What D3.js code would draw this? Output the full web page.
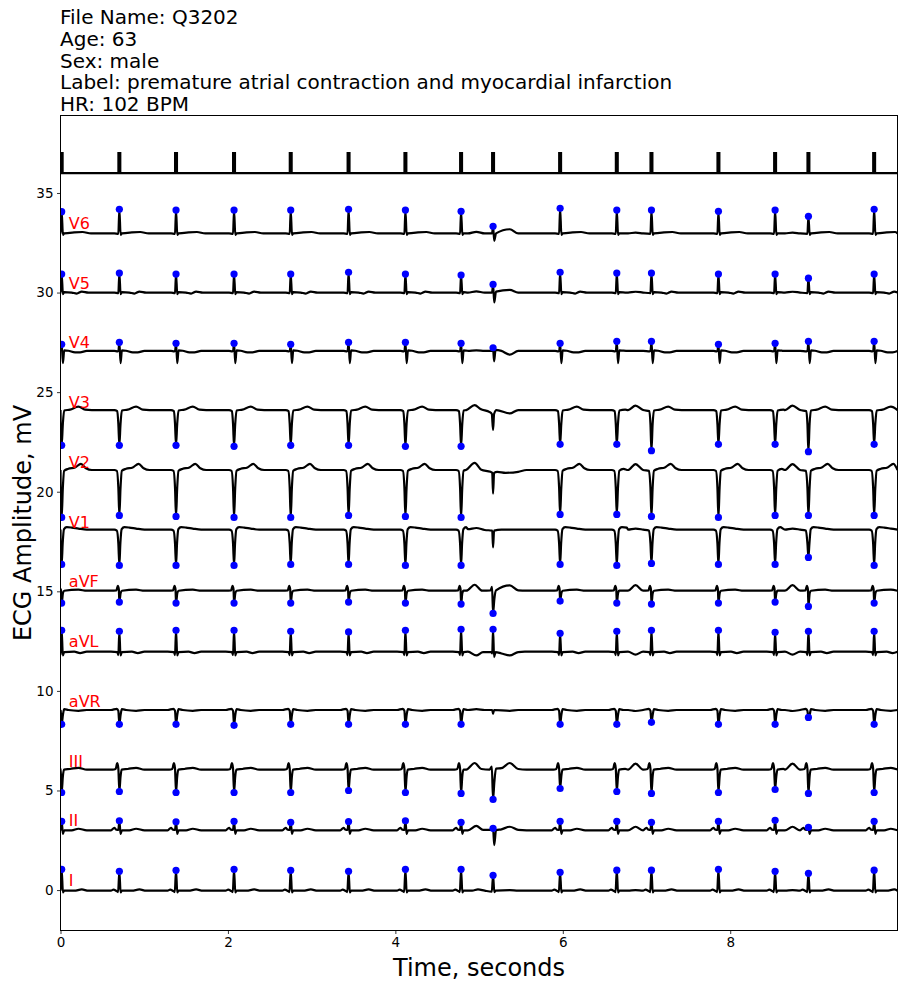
<!DOCTYPE html>
<html><head><meta charset="utf-8">
<script src="https://cdn.jsdelivr.net/npm/d3@7"></script>
<style>
body{margin:0;background:#fff}
svg{display:block}
text{font-family:"DejaVu Sans",sans-serif}
</style>
</head><body>
<svg id="chart" width="904" height="987"></svg>
<script>
// ---------------- DATA ----------------
const titleLines = [
  "File Name: Q3202",
  "Age: 63",
  "Sex: male",
  "Label: premature atrial contraction and myocardial infarction",
  "HR: 102 BPM"
];
const xLabel = "Time, seconds";
const yLabel = "ECG Amplitude, mV";
const xTicks = [0, 2, 4, 6, 8];
const yTicks = [0, 5, 10, 15, 20, 25, 30, 35];

// detected beats (seconds) and beat type: N normal, A aberrant premature, E early (P on T)
const beatTimes = [0.014, 0.703, 1.380, 2.073, 2.750, 3.441, 4.120, 4.785, 5.167, 5.968, 6.645, 7.059, 7.859, 8.536, 8.934, 9.719];
const beatTypes = ["N","N","N","N","N","N","N","N","A","N","N","E","N","N","E","N"];

const leadNames   = ["I","II","III","aVR","aVL","aVF","V1","V2","V3","V4","V5","V6"];
const leadOffsets = [0, 3, 6, 9, 12, 15, 18, 21, 24, 27, 30, 33];
const leadBaselines = [-0.03, 0.0, 0.05, 0.04, -0.03, 0.03, 0.1, 0.09, 0.1, 0.07, 0.0, -0.03];
const pBump = [0.03, 0.18, 0.3, -0.05, -0.15, 0.28, 0.05, 0.3, 0.22, 0.0, 0.04, 0.04];

// value of each lead at each detected beat (blue markers), null = no marker
const peakI   = [1.04,0.94,0.99,1.04,0.99,0.94,1.04,1.04,0.74,0.89,1.00,1.00,1.04,0.94,0.84,1.00];
const peakII  = [3.45,3.48,3.43,3.45,3.40,3.44,3.48,3.40,3.10,3.45,3.45,3.40,3.45,3.50,3.15,3.45];
const peakIII = [4.90,4.95,4.90,4.90,4.90,5.00,4.90,4.85,4.55,5.10,4.95,4.85,4.90,5.05,4.85,4.90];
const peakaVR = [8.32,8.32,8.32,8.27,8.32,8.32,8.32,8.32,null,8.32,8.32,8.42,8.32,8.32,8.67,8.32];
const peakaVL = [13.04,12.99,13.04,13.04,12.99,12.96,13.04,13.09,13.09,12.89,12.99,13.04,13.04,12.94,12.99,12.99];
const peakaVF = [14.41,14.46,14.41,14.41,14.41,14.46,14.41,14.36,13.89,14.51,14.41,14.36,14.41,14.46,14.24,14.41];
const peakV1  = [16.35,16.30,16.30,16.30,16.35,16.35,16.30,16.30,null,16.35,16.30,16.40,16.35,16.35,16.70,16.30];
const peakV2  = [18.71,18.81,18.76,18.71,18.71,18.81,18.76,18.71,null,18.86,18.86,18.76,18.71,18.81,18.81,18.81];
const peakV3  = [22.33,22.33,22.33,22.28,22.33,22.33,22.28,22.28,null,22.38,22.38,22.06,22.38,22.38,22.01,22.38];
const peakV4  = [27.40,27.50,27.45,27.45,27.40,27.50,27.50,27.45,27.23,27.45,27.55,27.55,27.40,27.45,27.55,27.55];
const peakV5  = [30.93,30.98,30.93,30.93,30.93,31.02,30.93,30.88,30.41,31.02,30.98,30.98,30.93,30.93,30.72,30.93];
const peakV6  = [34.06,34.18,34.14,34.14,34.14,34.18,34.14,34.08,33.33,34.23,34.14,34.14,34.08,34.14,33.83,34.18];
const peakValues = [peakI,peakII,peakIII,peakaVR,peakaVL,peakaVF,peakV1,peakV2,peakV3,peakV4,peakV5,peakV6];

// beat morphology per lead: [seconds from beat, mV above lead offset]; "R" = marker value
const shapeNormal = [
  [[-0.10,-0.03],[-0.07,0.02],[-0.04,-0.03],[-0.015,-0.1],[0,"R"],[0.015,-0.12],[0.03,-0.03],[0.15,-0.03],[0.24,0.03],[0.32,-0.03]],
  [[-0.10,0.0],[-0.06,0.12],[-0.035,0.03],[-0.012,0.02],[0,"R"],[0.015,-0.18],[0.03,0.0],[0.12,0.0],[0.2,0.08],[0.3,0.0]],
  [[-0.08,0.05],[-0.045,0.08],[-0.025,0.37],[-0.012,0.1],[0,"R"],[0.014,-0.3],[0.028,0.05],[0.1,0.08],[0.2,0.14],[0.3,0.05]],
  [[-0.10,0.04],[-0.03,0.1],[-0.012,0.0],[0,"R"],[0.015,-0.2],[0.03,0.08],[0.08,0.04],[0.2,0.0],[0.3,0.04]],
  [[-0.10,-0.03],[-0.025,-0.05],[-0.012,-0.2],[0,"R"],[0.014,-0.22],[0.03,-0.05],[0.15,-0.03],[0.22,-0.1],[0.3,-0.03]],
  [[-0.10,0.03],[-0.035,0.05],[-0.018,0.28],[-0.006,0.1],[0,"R"],[0.015,-0.1],[0.03,0.03],[0.2,0.08],[0.3,0.03]],
  [[-0.06,0.1],[-0.03,0.05],[-0.012,-0.6],[0,"R"],[0.012,-0.6],[0.028,0.12],[0.06,0.22],[0.12,0.2],[0.2,0.15],[0.3,0.1]],
  [[-0.06,0.09],[-0.03,0.05],[-0.012,-0.8],[0,"R"],[0.014,-0.8],[0.03,0.05],[0.08,0.15],[0.16,0.22],[0.23,0.4],[0.29,0.18],[0.36,0.09]],
  [[-0.06,0.1],[-0.025,0.05],[-0.012,-0.6],[0,"R"],[0.014,-0.6],[0.03,0.08],[0.1,0.12],[0.2,0.27],[0.28,0.12],[0.36,0.1]],
  [[-0.06,0.07],[-0.02,0.05],[-0.01,0.1],[0,"R"],[0.015,-0.55],[0.03,0.1],[0.08,0.08],[0.16,0.0],[0.22,0.0],[0.3,0.07]],
  [[-0.06,0.0],[-0.012,-0.03],[0,"R"],[0.015,-0.08],[0.03,0.02],[0.12,0.0],[0.18,-0.05],[0.24,0.05],[0.32,0.0]],
  [[-0.06,-0.03],[-0.012,-0.05],[0,"R"],[0.015,-0.1],[0.03,-0.03],[0.15,0.02],[0.25,0.04],[0.35,-0.03]]
];
const shapeAberrant = [
  [[-0.25,-0.03],[-0.18,0.03],[-0.1,-0.03],[-0.015,-0.08],[0,"R"],[0.015,-0.1],[0.03,-0.03],[0.2,0.0],[0.3,-0.03]],
  [[-0.30,0.0],[-0.2,0.22],[-0.12,0.02],[-0.02,0.02],[0,"R"],[0.014,-0.74],[0.035,0.0],[0.1,0.05],[0.2,0.18],[0.3,0.02],[0.4,0.0]],
  [[-0.32,0.05],[-0.22,0.38],[-0.14,0.08],[-0.04,0.05],[-0.015,0.2],[0,"R"],[0.015,-0.6],[0.035,0.1],[0.1,0.12],[0.2,0.38],[0.3,0.08],[0.4,0.05]],
  [[-0.30,0.04],[-0.2,0.08],[-0.1,0.04],[-0.01,0.04],[0,-0.15],[0.012,0.04],[0.2,0.0],[0.3,0.04]],
  [[-0.30,-0.03],[-0.2,-0.22],[-0.12,-0.05],[-0.02,-0.05],[-0.01,-0.12],[0,"R"],[0.012,-0.3],[0.03,-0.05],[0.1,-0.12],[0.2,-0.22],[0.3,-0.05],[0.38,-0.03]],
  [[-0.32,0.03],[-0.22,0.33],[-0.13,0.03],[-0.03,0.05],[-0.012,0.22],[0,"R"],[0.015,-0.4],[0.035,0.05],[0.2,0.3],[0.3,0.05],[0.4,0.03]],
  [[-0.30,0.12],[-0.2,0.18],[-0.1,0.08],[-0.01,0.05],[0,-0.8],[0.012,0.05],[0.1,0.1],[0.3,0.1]],
  [[-0.32,0.1],[-0.22,0.45],[-0.14,0.1],[-0.03,0.0],[-0.01,-0.05],[0,-1.1],[0.012,-0.05],[0.05,0.0],[0.15,-0.05],[0.3,0.0],[0.4,0.09]],
  [[-0.32,0.1],[-0.22,0.35],[-0.15,0.15],[-0.04,0.0],[-0.015,-0.1],[0,-0.9],[0.012,-0.1],[0.04,0.1],[0.2,-0.07],[0.3,0.1]],
  [[-0.30,0.07],[-0.2,0.1],[-0.1,0.07],[-0.012,0.07],[0,"R"],[0.012,-0.45],[0.03,0.12],[0.1,0.07],[0.2,-0.12],[0.3,0.07]],
  [[-0.30,0.0],[-0.2,0.06],[-0.1,0.0],[-0.012,0.0],[0,"R"],[0.014,-0.5],[0.035,0.05],[0.2,0.13],[0.3,0.0]],
  [[-0.30,-0.03],[-0.2,0.05],[-0.1,-0.03],[-0.012,-0.03],[0,"R"],[0.014,-0.4],[0.035,-0.03],[0.2,0.18],[0.3,-0.03]]
];
// beat marker trace on top
const pulseBase = 36, pulseTop = 37, pulseHalfWidth = 0.011;

// ---------------- LAYOUT ----------------
const plot = {left: 60.5, right: 897.5, top: 115.5, bottom: 930.5};
const xDomain = [0, 9.998];
const yDomain = [-2.03, 38.89];

const svg = d3.select("#chart");
const x = d3.scaleLinear().domain(xDomain).range([plot.left, plot.right]);
const y = d3.scaleLinear().domain(yDomain).range([plot.bottom, plot.top]);

svg.append("defs").append("clipPath").attr("id","clip")
  .append("rect").attr("x",plot.left).attr("y",plot.top)
  .attr("width",plot.right-plot.left).attr("height",plot.bottom-plot.top);

// title
svg.append("g").selectAll("text").data(titleLines).join("text")
  .attr("x", 60).attr("y", (d,i)=>24 + i*21.8)
  .attr("font-size", 20).attr("fill","#000").text(d=>d);

// build knots
function leadKnots(li){
  const off = leadOffsets[li], b = leadBaselines[li];
  const groups = beatTimes.map((bt,i)=>{
    let tpl = beatTypes[i]==="A" ? shapeAberrant[li] : shapeNormal[li];
    if (beatTypes[i]==="E") tpl = [[-0.28,b],[-0.19,b+pBump[li]],[-0.1,b]].concat(tpl.slice(1));
    const pk = peakValues[li][i];
    return tpl.map(([dt,v])=>[bt+dt, v==="R" ? pk : off + v]);
  });
  const pts = [[xDomain[0], off+b]];
  groups.forEach((g,i)=>{
    const next = groups[i+1];
    const limit = next ? next[0][0] : Infinity;
    g.forEach(p=>{ if (p[0] < limit && p[0] >= xDomain[0] && p[0] <= xDomain[1] && p[0] > pts[pts.length-1][0]) pts.push(p); });
  });
  if (pts[pts.length-1][0] < xDomain[1]) pts.push([xDomain[1], off+b]);
  return pts;
}

const gPlot = svg.append("g").attr("clip-path","url(#clip)");
const line = d3.line().x(d=>x(d[0])).y(d=>y(d[1])).curve(d3.curveMonotoneX);

leadNames.forEach((name,li)=>{
  gPlot.append("path").datum(leadKnots(li))
    .attr("d", line).attr("fill","none").attr("stroke","#000")
    .attr("stroke-width",2.2).attr("stroke-linejoin","round");
});

// pulse trace
const pulsePts = [[xDomain[0], pulseBase]];
beatTimes.forEach(bt=>{
  const a = Math.max(xDomain[0], bt-pulseHalfWidth), c = bt+pulseHalfWidth;
  pulsePts.push([a,pulseBase],[a,pulseTop],[c,pulseTop],[c,pulseBase]);
});
pulsePts.push([xDomain[1], pulseBase]);
gPlot.append("path").datum(pulsePts)
  .attr("d", d3.line().x(d=>x(d[0])).y(d=>y(d[1])))
  .attr("fill","none").attr("stroke","#000").attr("stroke-width",2.2);

// markers
leadNames.forEach((name,li)=>{
  gPlot.append("g").selectAll("circle")
    .data(beatTimes.map((t,i)=>[t, peakValues[li][i]]).filter(d=>d[1]!==null))
    .join("circle").attr("cx",d=>x(d[0])).attr("cy",d=>y(d[1])).attr("r",3.6).attr("fill","#0000ff");
});

// lead labels
svg.append("g").selectAll("text").data(leadNames).join("text")
  .attr("x", x(0.1)).attr("y",(d,i)=>y(leadOffsets[i]+0.2))
  .attr("font-size",16).attr("fill","#ff0000").text(d=>d);

// axes
const xAxis = d3.axisBottom(x).tickValues(xTicks).tickSize(3.5).tickPadding(3.5).tickFormat(d3.format("d"));
const yAxis = d3.axisLeft(y).tickValues(yTicks).tickSize(3.5).tickPadding(3.5).tickFormat(d3.format("d"));
const gx = svg.append("g").attr("transform",`translate(0,${plot.bottom})`).call(xAxis);
const gy = svg.append("g").attr("transform",`translate(${plot.left},0)`).call(yAxis);
[gx,gy].forEach(g=>{
  g.select(".domain").remove();
  g.selectAll(".tick line").attr("stroke","#000").attr("stroke-width",0.8);
  g.selectAll(".tick text").attr("font-size",13.5).attr("fill","#000").attr("font-family","DejaVu Sans");
});
svg.append("rect").attr("x",plot.left).attr("y",plot.top)
  .attr("width",plot.right-plot.left).attr("height",plot.bottom-plot.top)
  .attr("fill","none").attr("stroke","#000").attr("stroke-width",1);

svg.append("text").attr("x",(plot.left+plot.right)/2).attr("y",976)
  .attr("text-anchor","middle").attr("font-size",24).text(xLabel);
svg.append("text").attr("transform",`translate(31,${(plot.top+plot.bottom)/2}) rotate(-90)`)
  .attr("text-anchor","middle").attr("font-size",24).text(yLabel);
</script>
</body></html>
